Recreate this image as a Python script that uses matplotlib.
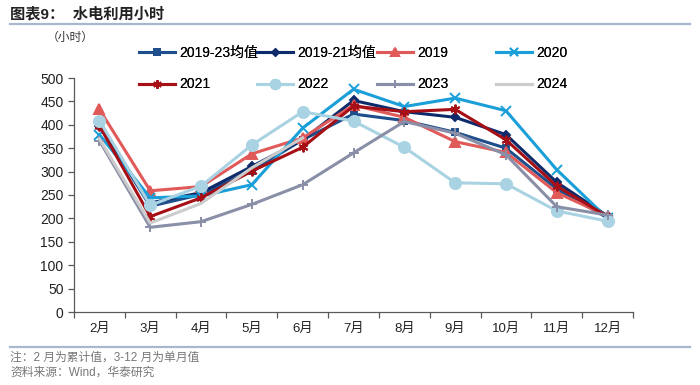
import matplotlib
matplotlib.use('Agg')
import matplotlib.pyplot as plt
import numpy as np

plt.rcParams['font.family'] = ['Liberation Sans', 'Noto Sans CJK SC']

# ── Data ───────────────────────────────────────────────
MONTHS = ['2月', '3月', '4月', '5月', '6月', '7月', '8月', '9月', '10月', '11月', '12月']

AVG_19_23 = [400, 226, 251, 302, 368, 423, 409, 384, 350, 263, 201]
AVG_19_21 = [398, 233, 255, 311, 368, 452, 428, 416, 379, 277, 205]
Y2019 = [433, 259, 268, 338, 372, 442, 416, 364, 341, 255, 205]
Y2020 = [379, 244, 248, 272, 393, 476, 439, 457, 430, 304, 200]
Y2021 = [398, 204, 244, 301, 352, 440, 428, 433, 368, 269, 204]
Y2022 = [409, 228, 269, 357, 428, 408, 352, 276, 274, 216, 194]
Y2023 = [366, 181, 193, 230, 272, 340, 407, 382, 336, 225, 207]
Y2024 = [370, 190, 232, 308, 372]

SERIES = [
    ('2019-23均值', AVG_19_23, '#1F4E8C', 's', 5),
    ('2019-21均值', AVG_19_21, '#0D2B6B', 'D', 4),
    ('2019', Y2019, '#E05A5A', '^', 7),
    ('2020', Y2020, '#1A9FD8', 'x', 7),
    ('2021', Y2021, '#A50F15', (6, 2, 0), 7),
    ('2022', Y2022, '#A9D3E3', 'o', 8),
    ('2023', Y2023, '#8A8FA8', '+', 7),
    ('2024', Y2024, '#CCCCCC', None, 0),
]

AXIS_COLOR = '#595959'
RULE_COLOR = '#A7B8CE'

fig = plt.figure(figsize=(7, 3.85), dpi=100)
ax = fig.add_axes([74 / 700, 1 - 312 / 385, 559 / 700, 234 / 385])

handles = []
for label, vals, color, marker, ms in SERIES:
    x = np.arange(len(vals))
    h, = ax.plot(x, vals, color=color, linewidth=2.2, marker=marker,
                 markersize=ms, markeredgewidth=1.4, label=label,
                 zorder=3)
    handles.append(h)

ax.set_xlim(-0.5, len(MONTHS) - 0.5)
ax.set_ylim(0, 500)
ax.set_yticks(range(0, 501, 50))
ax.set_xticks(np.arange(-0.5, len(MONTHS), 1.0))
ax.set_xticklabels([])
ax.set_xticks(np.arange(len(MONTHS)), minor=True)
ax.set_xticklabels(MONTHS, minor=True)
ax.tick_params(axis='x', which='minor', length=0, pad=8, labelsize=9.5, colors='#222222')
ax.tick_params(axis='x', which='major', length=4, width=0.9, color=AXIS_COLOR, direction='out')
ax.tick_params(axis='y', length=4, width=0.9, color=AXIS_COLOR, labelsize=10,
               labelcolor='#222222', direction='out')

for side in ('top', 'right'):
    ax.spines[side].set_visible(False)
for side in ('left', 'bottom'):
    ax.spines[side].set_color(AXIS_COLOR)
    ax.spines[side].set_linewidth(0.9)

# legend: 4 equal-width columns, filled row by row
col_x = [136, 254, 374, 493]
for c, x0 in enumerate(col_x):
    leg = fig.legend(handles=[handles[c], handles[c + 4]], loc='upper left',
                     bbox_to_anchor=(x0 / 700, 1 - 43 / 385),
                     frameon=False, fontsize=10, handlelength=2.6,
                     handletextpad=0.3, labelspacing=1.27,
                     borderpad=0.2, borderaxespad=0, markerscale=0.85)
    fig.add_artist(leg)

# title and notes
fig.text(10 / 700, 1 - 14 / 385, '图表9：  水电利用小时', fontsize=11, fontweight='bold',
         va='center', ha='left', color='#222222')
fig.add_artist(plt.Line2D([10 / 700, 690 / 700], [1 - 23.5 / 385] * 2,
                          color=RULE_COLOR, linewidth=1.6))
fig.text(47 / 700, 1 - 38 / 385, '（小时）', fontsize=8.5, va='center', ha='left',
         color='#333333')
fig.add_artist(plt.Line2D([10 / 700, 690 / 700], [1 - 346.5 / 385] * 2,
                          color=RULE_COLOR, linewidth=1.6))
fig.text(10 / 700, 1 - 358 / 385, '注：2 月为累计值，3-12 月为单月值', fontsize=8.5,
         va='center', ha='left', color='#777777')
fig.text(10 / 700, 1 - 373 / 385, '资料来源：Wind，华泰研究', fontsize=8.5,
         va='center', ha='left', color='#777777')

fig.savefig('out.png', dpi=100)
